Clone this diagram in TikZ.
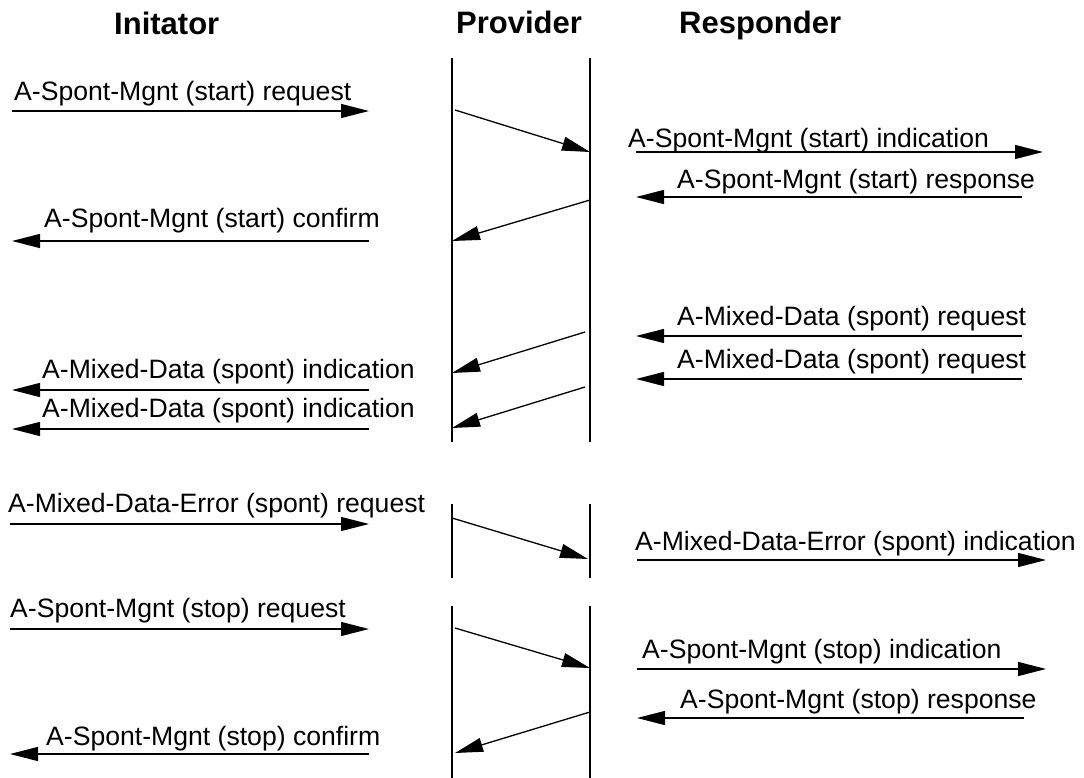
\documentclass[tikz,border=0pt]{standalone}
\usepackage{fontspec}
\setmainfont{Liberation Sans}
\usetikzlibrary{arrows.meta}
\begin{document}
\begin{tikzpicture}[x=1pt,y=-1pt,
  msg/.style={font=\fontsize{26.6}{30}\selectfont, anchor=base west, inner sep=0pt},
  head/.style={font=\fontsize{31}{36}\selectfont\bfseries, anchor=base west, inner sep=0pt},
  life/.style={line width=1.2pt},
  sig/.style={line width=1.3pt, -{Triangle[length=28pt,width=14pt]}},
]
\useasboundingbox (0,0) rectangle (1084,778);

% column headings
\node[head] (hI) at (114,35) {Initator};
\node[head] (hP) at (456,34) {Provider};
\node[head] (hR) at (679,34) {Responder};

% provider lifelines, three segments
\coordinate (L1a) at (452,58);  \coordinate (L1b) at (452,442);
\coordinate (R1a) at (590,58);  \coordinate (R1b) at (590,442);
\coordinate (L2a) at (452,504); \coordinate (L2b) at (452,578);
\coordinate (R2a) at (590,504); \coordinate (R2b) at (590,578);
\coordinate (L3a) at (452,606); \coordinate (L3b) at (452,778);
\coordinate (R3a) at (590,606); \coordinate (R3b) at (590,778);
\draw[life] (L1a) -- (L1b);
\draw[life] (R1a) -- (R1b);
\draw[life] (L2a) -- (L2b);
\draw[life] (R2a) -- (R2b);
\draw[life] (L3a) -- (L3b);
\draw[life] (R3a) -- (R3b);

% ---- start phase ----
\node[msg] (t1) at (14,101) {A-Spont-Mgnt (start) request};
\coordinate (a1s) at (12,111);  \coordinate (a1e) at (369,111);
\draw[sig] (a1s) -- (a1e);

\coordinate (d1s) at (455,110); \coordinate (d1e) at (590,152);
\draw[sig] (d1s) -- (d1e);

\node[msg] (t2) at (628,148) {A-Spont-Mgnt (start) indication};
\coordinate (a2s) at (636,152); \coordinate (a2e) at (1043,152);
\draw[sig] (a2s) -- (a2e);

\node[msg] (t3) at (677,189) {A-Spont-Mgnt (start) response};
\coordinate (a3s) at (1022,197); \coordinate (a3e) at (636,197);
\draw[sig] (a3s) -- (a3e);

\coordinate (d2s) at (590,200); \coordinate (d2e) at (452,241);
\draw[sig] (d2s) -- (d2e);

\node[msg] (t4) at (44,228) {A-Spont-Mgnt (start) confirm};
\coordinate (a4s) at (369,241); \coordinate (a4e) at (12,241);
\draw[sig] (a4s) -- (a4e);

% ---- mixed data ----
\node[msg] (t5) at (677,325) {A-Mixed-Data (spont) request};
\coordinate (a5s) at (1022,336); \coordinate (a5e) at (636,336);
\draw[sig] (a5s) -- (a5e);

\node[msg] (t6) at (677,368) {A-Mixed-Data (spont) request};
\coordinate (a6s) at (1022,379); \coordinate (a6e) at (636,379);
\draw[sig] (a6s) -- (a6e);

\coordinate (d3s) at (585,332); \coordinate (d3e) at (452,373);
\draw[sig] (d3s) -- (d3e);
\coordinate (d4s) at (585,387); \coordinate (d4e) at (452,428);
\draw[sig] (d4s) -- (d4e);

\node[msg] (t7) at (42,378) {A-Mixed-Data (spont) indication};
\coordinate (a7s) at (369,390); \coordinate (a7e) at (12,390);
\draw[sig] (a7s) -- (a7e);

\node[msg] (t8) at (42,417) {A-Mixed-Data (spont) indication};
\coordinate (a8s) at (369,429); \coordinate (a8e) at (12,429);
\draw[sig] (a8s) -- (a8e);

% ---- mixed data error ----
\node[msg] (t9) at (8,512) {A-Mixed-Data-Error (spont) request};
\coordinate (a9s) at (10,524); \coordinate (a9e) at (369,524);
\draw[sig] (a9s) -- (a9e);

\coordinate (d5s) at (452,518); \coordinate (d5e) at (588,559);
\draw[sig] (d5s) -- (d5e);

\node[msg] (t10) at (635,550) {A-Mixed-Data-Error (spont) indication};
\coordinate (a10s) at (637,560); \coordinate (a10e) at (1046,560);
\draw[sig] (a10s) -- (a10e);

% ---- stop phase ----
\node[msg] (t11) at (10,617) {A-Spont-Mgnt (stop) request};
\coordinate (a11s) at (10,629); \coordinate (a11e) at (369,629);
\draw[sig] (a11s) -- (a11e);

\coordinate (d6s) at (455,628); \coordinate (d6e) at (590,668);
\draw[sig] (d6s) -- (d6e);

\node[msg] (t12) at (642,658) {A-Spont-Mgnt (stop) indication};
\coordinate (a12s) at (637,669); \coordinate (a12e) at (1046,669);
\draw[sig] (a12s) -- (a12e);

\node[msg] (t13) at (680,708) {A-Spont-Mgnt (stop) response};
\coordinate (a13s) at (1024,718); \coordinate (a13e) at (637,718);
\draw[sig] (a13s) -- (a13e);

\coordinate (d7s) at (590,712); \coordinate (d7e) at (455,753);
\draw[sig] (d7s) -- (d7e);

\node[msg] (t14) at (46,745) {A-Spont-Mgnt (stop) confirm};
\coordinate (a14s) at (369,754); \coordinate (a14e) at (10,754);
\draw[sig] (a14s) -- (a14e);
\end{tikzpicture}
\end{document}
